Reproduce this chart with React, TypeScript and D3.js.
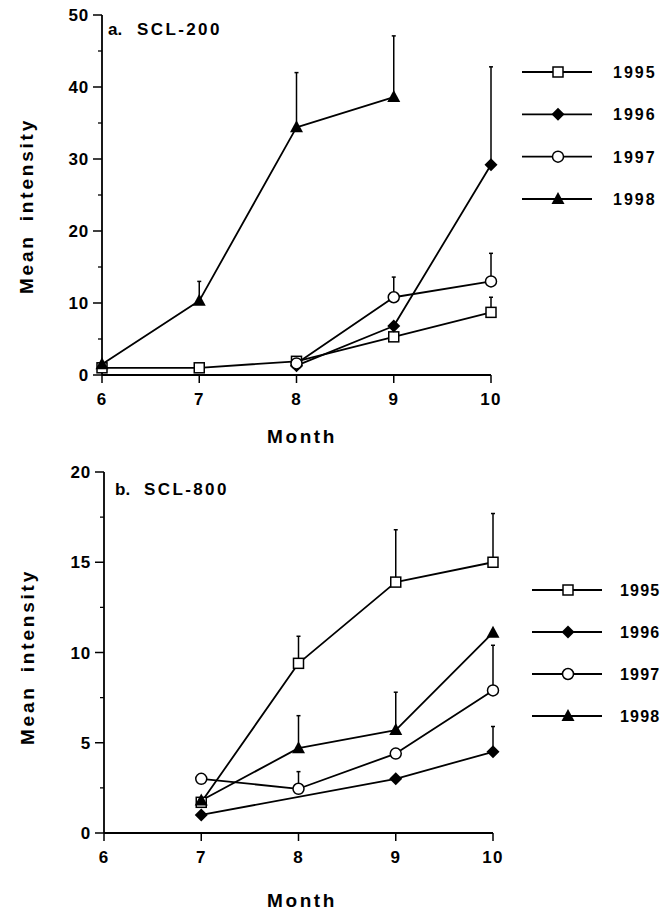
import React from "react";
import * as d3 from "d3";

// months on the x axis and the four survey years
const months = [6, 7, 8, 9, 10];
const years = ["1995", "1996", "1997", "1998"];

// a. SCL-200 mean intensity (null = no sample)
const scl200_1995 = [1.0, 1.0, 1.9, 5.3, 8.7];
const scl200_1996 = [null, null, 1.3, 6.8, 29.2];
const scl200_1997 = [null, null, 1.6, 10.8, 13.0];
const scl200_1998 = [1.5, 10.3, 34.4, 38.6, null];
// upper error bars
const scl200_1995_err = [null, null, null, null, 2.1];
const scl200_1996_err = [null, null, null, null, 13.6];
const scl200_1997_err = [null, null, null, 2.8, 3.9];
const scl200_1998_err = [null, 2.7, 7.6, 8.5, null];

// b. SCL-800
const scl800_1995 = [null, 1.7, 9.4, 13.9, 15.0];
const scl800_1996 = [null, 1.0, null, 3.0, 4.5];
const scl800_1997 = [null, 3.0, 2.45, 4.4, 7.9];
const scl800_1998 = [null, 1.8, 4.7, 5.7, 11.1];
const scl800_1995_err = [null, null, 1.5, 2.9, 2.7];
const scl800_1996_err = [null, null, null, null, 1.4];
const scl800_1997_err = [null, null, 0.95, null, 2.5];
const scl800_1998_err = [null, null, 1.8, 2.1, null];

const yTicksA = [0, 10, 20, 30, 40, 50];
const yTicksB = [0, 5, 10, 15, 20];

const FONT = "'Liberation Sans', Arial, Helvetica, sans-serif";

const Marker = ({ kind, x, y }) => {
  if (kind === "square")
    return <rect x={x - 5} y={y - 5} width={10} height={10} fill="#fff" stroke="#000" strokeWidth={1.5} />;
  if (kind === "circle")
    return <circle cx={x} cy={y} r={5.5} fill="#fff" stroke="#000" strokeWidth={1.5} />;
  if (kind === "diamond")
    return <path d={`M${x},${y - 6.5}L${x + 6.5},${y}L${x},${y + 6.5}L${x - 6.5},${y}Z`} fill="#000" />;
  return <path d={`M${x},${y - 7}L${x + 6.5},${y + 5}L${x - 6.5},${y + 5}Z`} fill="#000" />;
};

const kinds = ["square", "diamond", "circle", "triangle"];

const Panel = ({ cfg }) => {
  const x = d3.scaleLinear().domain([6, 10]).range(cfg.xRange);
  const y = d3.scaleLinear().domain([0, cfg.yMax]).range(cfg.yRange);
  const minor = d3.range(cfg.minorStep, cfg.yMax, cfg.minorStep).filter((v) => !cfg.yTicks.includes(v));
  const x0 = cfg.xRange[0];
  const y0 = cfg.yRange[0];
  const legY = d3.scalePoint().domain(years).range(cfg.legendY);

  return (
    <g>
      {/* y axis */}
      <line x1={x0} x2={x0} y1={y0} y2={y(cfg.yMax)} stroke="#000" strokeWidth={1.8} />
      {cfg.yTicks.map((t) => (
        <g key={"yt" + t}>
          <line x1={x0 - 9} x2={x0} y1={y(t)} y2={y(t)} stroke="#000" strokeWidth={1.5} />
          <text x={x0 - 13} y={y(t) + 6} textAnchor="end" fontSize={17} fontWeight="bold" letterSpacing={0.8}>
            {t}
          </text>
        </g>
      ))}
      {minor.map((t) => (
        <line key={"ym" + t} x1={x0 - 4} x2={x0} y1={y(t)} y2={y(t)} stroke="#000" strokeWidth={1.3} />
      ))}
      {/* x axis */}
      <line x1={x0} x2={x(10)} y1={y0} y2={y0} stroke="#000" strokeWidth={1.8} />
      {months.map((m) => (
        <g key={"xt" + m}>
          <line x1={x(m)} x2={x(m)} y1={y0} y2={y0 + 8} stroke="#000" strokeWidth={1.5} />
          <text x={x(m)} y={y0 + 30} textAnchor="middle" fontSize={17} fontWeight="bold" letterSpacing={1.2}>
            {m}
          </text>
        </g>
      ))}
      <text x={302} y={cfg.monthY} textAnchor="middle" fontSize={19} fontWeight="bold" letterSpacing={2.6}>
        Month
      </text>
      <text
        transform={`translate(${cfg.yLabelX},${cfg.yLabelY}) rotate(-90)`}
        textAnchor="middle"
        fontSize={19}
        fontWeight="bold"
        letterSpacing={2.8}
        wordSpacing={5}
      >
        Mean intensity
      </text>
      <text x={cfg.titleX} y={cfg.titleY} fontSize={17} fontWeight="bold">
        {cfg.titleA}
      </text>
      <text x={cfg.titleX + 29} y={cfg.titleY} fontSize={17} fontWeight="bold" letterSpacing={2.4}>
        {cfg.titleB}
      </text>

      {/* series */}
      {cfg.series.map((vals, si) => {
        const pts = months.map((m, i) => [m, vals[i], cfg.errs[si][i]]).filter((p) => p[1] != null);
        const line = d3
          .line()
          .x((p) => x(p[0]))
          .y((p) => y(p[1]));
        return (
          <path key={"l" + si} d={line(pts)} fill="none" stroke="#000" strokeWidth={1.8} strokeLinejoin="round" />
        );
      })}
      {cfg.series.map((vals, si) =>
        months.map((m, i) => {
          const v = vals[i];
          const e = cfg.errs[si][i];
          if (v == null || e == null) return null;
          return (
            <g key={"e" + si + "_" + i}>
              <line x1={x(m)} x2={x(m)} y1={y(v)} y2={y(v + e)} stroke="#000" strokeWidth={1.5} />
              <line x1={x(m) - 2} x2={x(m) + 2} y1={y(v + e)} y2={y(v + e)} stroke="#000" strokeWidth={1.5} />
            </g>
          );
        })
      )}
      {cfg.series.map((vals, si) =>
        months.map((m, i) =>
          vals[i] == null ? null : <Marker key={"m" + si + "_" + i} kind={kinds[si]} x={x(m)} y={y(vals[i])} />
        )
      )}

      {/* legend */}
      {years.map((yr, i) => (
        <g key={"lg" + yr}>
          <line
            x1={cfg.legendX[0]}
            x2={cfg.legendX[1]}
            y1={legY(yr)}
            y2={legY(yr)}
            stroke="#000"
            strokeWidth={1.8}
          />
          <Marker kind={kinds[i]} x={(cfg.legendX[0] + cfg.legendX[1]) / 2 + 1} y={legY(yr)} />
          <text
            x={cfg.legendTextX}
            y={legY(yr) + 6}
            fontSize={16}
            fontWeight="bold"
            letterSpacing={cfg.legendSpacing}
          >
            {yr}
          </text>
        </g>
      ))}
    </g>
  );
};

const panelA = {
  xRange: [102, 491],
  yRange: [375, 15],
  yMax: 50,
  yTicks: yTicksA,
  minorStep: 5,
  series: [scl200_1995, scl200_1996, scl200_1997, scl200_1998],
  errs: [scl200_1995_err, scl200_1996_err, scl200_1997_err, scl200_1998_err],
  titleA: "a.",
  titleB: "SCL-200",
  titleX: 108,
  titleY: 35,
  monthY: 443,
  yLabelX: 33,
  yLabelY: 206,
  legendX: [522, 592],
  legendY: [72, 199],
  legendTextX: 613,
  legendSpacing: 2,
};

const panelB = {
  xRange: [104, 493],
  yRange: [833, 472],
  yMax: 20,
  yTicks: yTicksB,
  minorStep: 2.5,
  series: [scl800_1995, scl800_1996, scl800_1997, scl800_1998],
  errs: [scl800_1995_err, scl800_1996_err, scl800_1997_err, scl800_1998_err],
  titleA: "b.",
  titleB: "SCL-800",
  titleX: 115,
  titleY: 495,
  monthY: 907,
  yLabelX: 34,
  yLabelY: 657,
  legendX: [532, 602],
  legendY: [590, 716],
  legendTextX: 620,
  legendSpacing: 1.2,
};

export default function App() {
  return (
    <svg
      width={664}
      height={913}
      style={{ position: "absolute", left: 0, top: 0, background: "#fff", fontFamily: FONT }}
    >
      <Panel cfg={panelA} />
      <Panel cfg={panelB} />
    </svg>
  );
}
